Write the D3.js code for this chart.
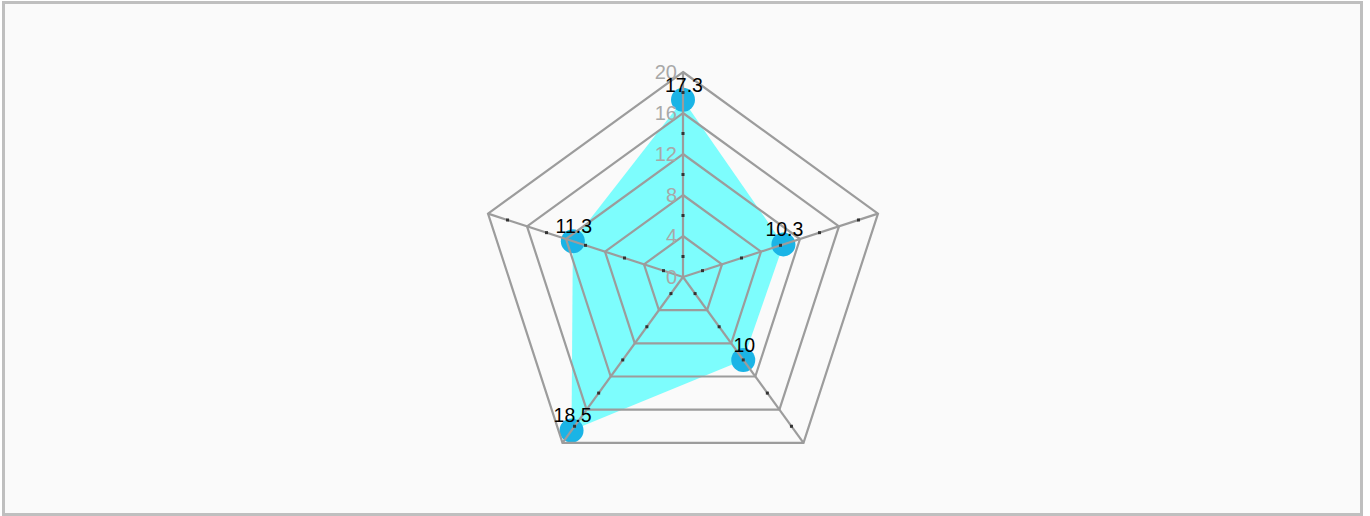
<!DOCTYPE html>
<html>
<head>
  <meta charset="utf-8">
  <script src="https://cdn.jsdelivr.net/npm/d3@7"></script>
  <style>
    body { margin: 0; background: #ffffff; }
    text { font-family: "Liberation Sans", Arial, sans-serif; }
  </style>
</head>
<body>
<script>
  // radar data, clockwise from the top spoke
  var categories = ["A", "B", "C", "D", "E"];
  var values = [17.3, 10.3, 10, 18.5, 11.3];
  var ringTicks = [0, 4, 8, 12, 16, 20];
  var minorTicks = [2, 6, 10, 14, 18];

  var width = 1370, height = 516;
  var cx = 683, cy = 277, radius = 205;

  var svg = d3.select("body").append("svg")
      .attr("width", width)
      .attr("height", height);

  // frame
  svg.append("rect")
      .attr("x", 3.5).attr("y", 2.5)
      .attr("width", 1358).attr("height", 512)
      .attr("fill", "#fafafa")
      .attr("stroke", "#bfbfbf")
      .attr("stroke-width", 3);

  var r = d3.scaleLinear().domain([0, 20]).range([0, radius]);
  var angle = d3.scaleLinear().domain([0, categories.length]).range([0, 2 * Math.PI]);

  function pt(i, v) {
    var a = angle(i);
    return [cx + r(v) * Math.sin(a), cy - r(v) * Math.cos(a)];
  }

  var g = svg.append("g");

  var radial = d3.lineRadial()
      .angle(function(d, i) { return angle(i); })
      .radius(function(d) { return r(d); })
      .curve(d3.curveLinearClosed);

  // filled area
  g.append("path")
      .attr("transform", "translate(" + cx + "," + cy + ")")
      .attr("d", radial(values))
      .attr("fill", "rgba(0,255,255,0.5)");

  // points
  g.selectAll("circle.pt")
      .data(values)
      .enter().append("circle")
      .attr("class", "pt")
      .attr("cx", function(d, i) { return pt(i, d)[0]; })
      .attr("cy", function(d, i) { return pt(i, d)[1]; })
      .attr("r", 12)
      .attr("fill", "#1ab4e6");

  // rings
  g.selectAll("path.ring")
      .data(ringTicks.filter(function(t) { return t > 0; }))
      .enter().append("path")
      .attr("class", "ring")
      .attr("transform", "translate(" + cx + "," + cy + ")")
      .attr("d", function(t) { return radial(categories.map(function() { return t; })); })
      .attr("fill", "none")
      .attr("stroke", "#9c9c9c")
      .attr("stroke-width", 2.2);

  // spokes
  g.selectAll("line.spoke")
      .data(categories)
      .enter().append("line")
      .attr("class", "spoke")
      .attr("x1", cx).attr("y1", cy)
      .attr("x2", function(d, i) { return pt(i, 20)[0]; })
      .attr("y2", function(d, i) { return pt(i, 20)[1]; })
      .attr("stroke", "#9c9c9c")
      .attr("stroke-width", 2.2);

  // minor tick marks on the spokes
  categories.forEach(function(c, i) {
    g.selectAll("rect.minor-" + i)
        .data(minorTicks)
        .enter().append("rect")
        .attr("x", function(t) { return pt(i, t)[0] - 1.5; })
        .attr("y", function(t) { return pt(i, t)[1] - 1.5; })
        .attr("width", 3)
        .attr("height", 3)
        .attr("fill", "#333");
  });

  // axis labels on the top spoke
  g.selectAll("text.tick")
      .data(ringTicks)
      .enter().append("text")
      .attr("x", cx - 6)
      .attr("y", function(t) { return cy - r(t) + 7; })
      .attr("text-anchor", "end")
      .attr("font-size", "20px")
      .attr("fill", "#a8a8a8")
      .text(function(t) { return t; });

  // value labels
  g.selectAll("text.val")
      .data(values)
      .enter().append("text")
      .attr("x", function(d, i) { return pt(i, d)[0] + 1; })
      .attr("y", function(d, i) { return pt(i, d)[1] - 8; })
      .attr("text-anchor", "middle")
      .attr("font-size", "19.5px")
      .attr("fill", "#000")
      .text(function(d) { return d; });
</script>
</body>
</html>
